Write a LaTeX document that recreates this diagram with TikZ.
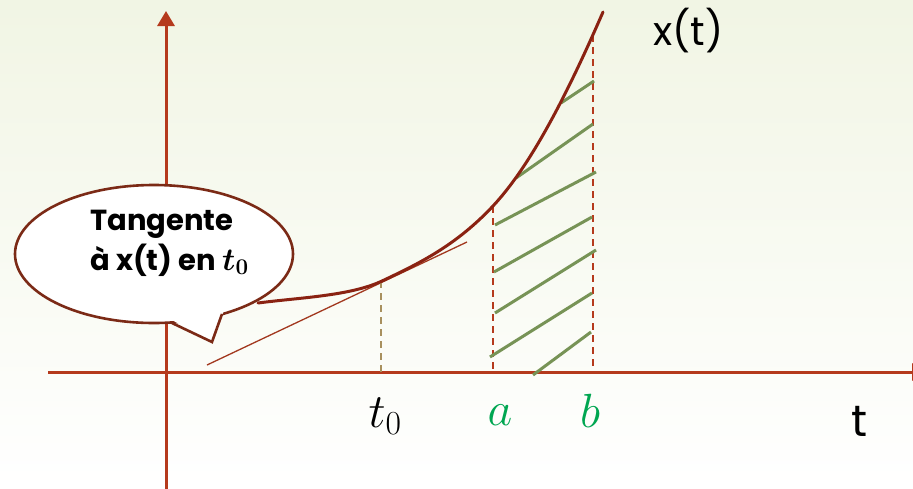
\RequirePackage{fix-cm}
\documentclass[tikz,border=0pt]{standalone}
\usepackage{amsmath}
\usepackage{fontspec}
\setmainfont{Poppins}
\usetikzlibrary{arrows.meta}
\definecolor{bgtop}{HTML}{F1F5E4}
\definecolor{axisred}{HTML}{B53A1D}
\definecolor{curvebrown}{HTML}{8A2212}
\definecolor{tanred}{HTML}{A2381F}
\definecolor{hatchgreen}{HTML}{779356}
\definecolor{tanbeige}{HTML}{A8905E}
\definecolor{labgreen}{HTML}{00A651}
\definecolor{bubbleline}{HTML}{7B2A16}
\tikzset{
 axisline/.style={draw=axisred,line width=3pt},
 guideline/.style={draw=axisred,line width=1.6pt,dash pattern=on 7pt off 5pt},
 hatchline/.style={draw=hatchgreen,line width=3pt},
 biglabel/.style={inner sep=0pt,font=\fontsize{48}{54}\selectfont}
}
\begin{document}
\begin{tikzpicture}[x=1pt,y=-1pt]
\useasboundingbox (0,0) rectangle (913,488);
\shade[top color=bgtop,bottom color=white] (0,0) rectangle (913,488);
% axes
\draw[axisline,-{Triangle[width=17pt,length=15pt]}] (166,500) -- (166,11);
\draw[axisline,-{Triangle[width=17pt,length=15pt]}] (48,372) -- (927,372);
% tangent at t0
\draw[draw=tanred,line width=1.3pt] (207,365) -- (467,242);
% dashed guides
\draw[guideline,draw=tanbeige] (381,281) -- (381,372);
\draw[guideline] (493,206) -- (493,372);
\draw[guideline] (593,35) -- (593,372);
% hatching between a and b
\foreach \xa/\ya/\xb/\yb in {561/103/594/81, 516/178/593/124, 495/225/596/172,
  494/272/592/217, 495/313/596/250, 490/357/592/293, 533/375/591/332}
  {\draw[hatchline] (\xa,\ya) -- (\xb,\yb);}
% the curve x(t)
\coordinate (c0) at (258,303);
\coordinate (ct0) at (382,281);
\coordinate (ca) at (493,206);
\coordinate (ctop) at (603,12);
\draw[draw=curvebrown,line width=3pt,line cap=round]
  (c0) .. controls (300,297.5) and (350,296) .. (ct0)
       .. controls (419,263.5) and (456,245.6) .. (ca)
       .. controls (530,166.4) and (566,97.1) .. (ctop);
% speech bubble
\draw[draw=bubbleline,fill=white,line width=2.6pt] (154,254) ellipse [x radius=139,y radius=69];
\fill[white] (170,319) -- (212,342) -- (224,310) -- cycle;
\draw[draw=bubbleline,line width=2.6pt,line join=miter] (172,323) -- (212,342) -- (222,314);
\node[anchor=base west,inner sep=0pt,font=\fontsize{29}{34}\bfseries] (tan1) at (90,230) {Tangente};
\node[anchor=base west,inner sep=0pt,font=\fontsize{29}{34}\bfseries] (tan2) at (90,270)
  {à x(t) en {\fontsize{32}{34}\selectfont$\boldsymbol{t}_{\boldsymbol{0}}$}};
% labels
\node[biglabel,anchor=base] (lt0) at (385,427) {$t_0$};
\node[biglabel,anchor=base,text=labgreen] (la) at (500,425) {$a$};
\node[biglabel,anchor=base,text=labgreen] (lb) at (590,427) {$b$};
\node[anchor=base,inner sep=0pt,font=\fontsize{44}{50}\selectfont] (lt) at (859,436) {t};
\node[anchor=base west,inner sep=0pt,font=\fontsize{40}{46}\selectfont] (lx) at (653,45) {x(t)};
\end{tikzpicture}
\end{document}
